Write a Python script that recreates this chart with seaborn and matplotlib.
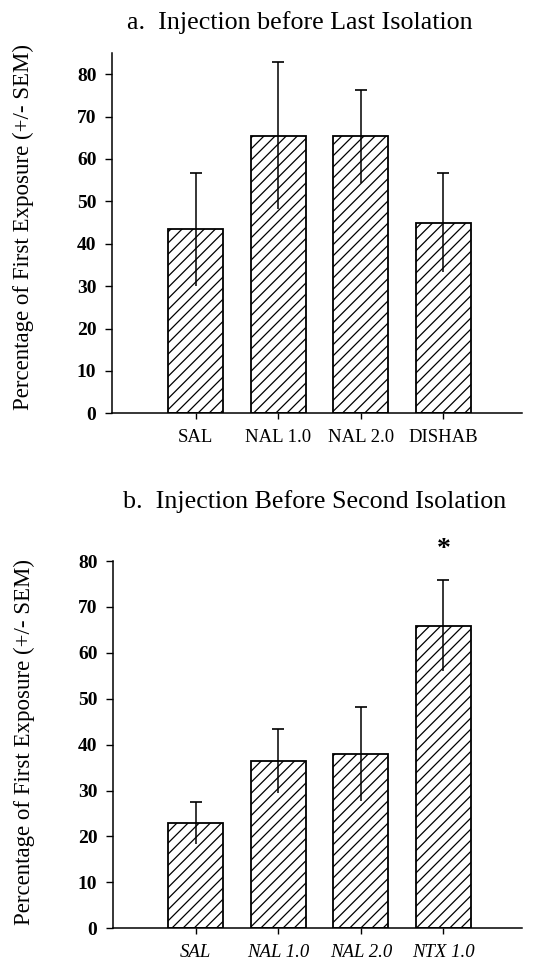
import numpy as np
import pandas as pd
import matplotlib
matplotlib.use("Agg")
import matplotlib.pyplot as plt
import seaborn as sns

# ---- data ----
categories_a = ["SAL", "NAL 1.0", "NAL 2.0", "DISHAB"]
means_a = [43.4, 65.5, 65.3, 45.0]
sem_a = [13.3, 17.4, 11.0, 11.6]

categories_b = ["SAL", "NAL 1.0", "NAL 2.0", "NTX 1.0"]
means_b = [22.9, 36.5, 38.0, 65.9]
sem_b = [4.5, 7.0, 10.2, 9.9]

yticks_a = [0, 10, 20, 30, 40, 50, 60, 70, 80]
yticks_b = [0, 10, 20, 30, 40, 50, 60, 70, 80]

title_a = "a.  Injection before Last Isolation"
title_b = "b.  Injection Before Second Isolation"
ylabel = "Percentage of First Exposure (+/- SEM)"
sig_marker = "*"
sig_index_b = 3

sns.set_theme(style="white")
plt.rcParams["font.family"] = ["Liberation Serif", "DejaVu Serif"]
plt.rcParams["hatch.linewidth"] = 0.9
plt.rcParams["hatch.color"] = "black"
plt.rcParams["text.color"] = "black"
plt.rcParams["axes.labelcolor"] = "black"

W, H = 543, 961
fig = plt.figure(figsize=(W / 100, H / 100), dpi=100)

def px_axes(left, right, top, bottom):
    return fig.add_axes([left / W, 1 - bottom / H, (right - left) / W, (bottom - top) / H])

def draw_panel(ax, cats, means, sems, ymax, yticks, italic_x):
    df = pd.DataFrame({"cat": cats, "val": means})
    sns.barplot(data=df, x="cat", y="val", ax=ax, color="white",
                edgecolor="black", linewidth=1.3, width=0.67, saturation=1)
    for p in ax.patches:
        p.set_hatch("///")
        p.set_facecolor("white")
        p.set_edgecolor("black")
    x = np.arange(len(cats))
    m = np.array(means)
    s = np.array(sems)
    ax.errorbar(x, m, yerr=s, fmt="none", ecolor="black", elinewidth=1.1, capsize=0)
    ax.plot(x, m + s, ls="none", marker="_", ms=8, mew=1.2, color="black")
    ax.set_ylim(0, ymax)
    ax.set_yticks(yticks)
    ax.set_xlabel("")
    ax.set_ylabel(ylabel, fontsize=16.5, color="black")
    sns.despine(ax=ax)
    for sp in ["left", "bottom"]:
        ax.spines[sp].set_color("black")
        ax.spines[sp].set_linewidth(1.1)
    ax.tick_params(axis="y", direction="out", length=5, width=1, colors="black",
                   pad=6, labelsize=14, left=True)
    ax.tick_params(axis="x", direction="out", length=4, width=1, colors="black",
                   pad=7, labelsize=13.5, bottom=True)
    for t in ax.get_yticklabels():
        t.set_fontweight("bold")
    if italic_x:
        for t in ax.get_xticklabels():
            t.set_fontstyle("italic")

# panel a
ax1 = px_axes(111.7, 522, 413.3 - 85 * 4.24, 413.3)
draw_panel(ax1, categories_a, means_a, sem_a, 85, yticks_a, False)
ax1.set_xlim((111.7 - 195.8) / 82.5, (522 - 195.8) / 82.5)
ax1.yaxis.set_label_coords(-0.19, 0.517)

# panel b
ax2 = px_axes(112.7, 522, 561, 928.3)
draw_panel(ax2, categories_b, means_b, sem_b, 80, yticks_b, True)
ax2.set_xlim((112.7 - 195.8) / 82.5, (522 - 195.8) / 82.5)
ax2.yaxis.set_label_coords(-0.19, 0.508)
ax2.text(sig_index_b, 82.5, sig_marker, ha="center", va="center", fontsize=20,
         fontweight="bold", clip_on=False)

fig.text(300 / W, 1 - 23 / H, title_a, ha="center", va="center", fontsize=18.7)
fig.text(315 / W, 1 - 502 / H, title_b, ha="center", va="center", fontsize=18.7)

fig.savefig("out.png", dpi=100)
